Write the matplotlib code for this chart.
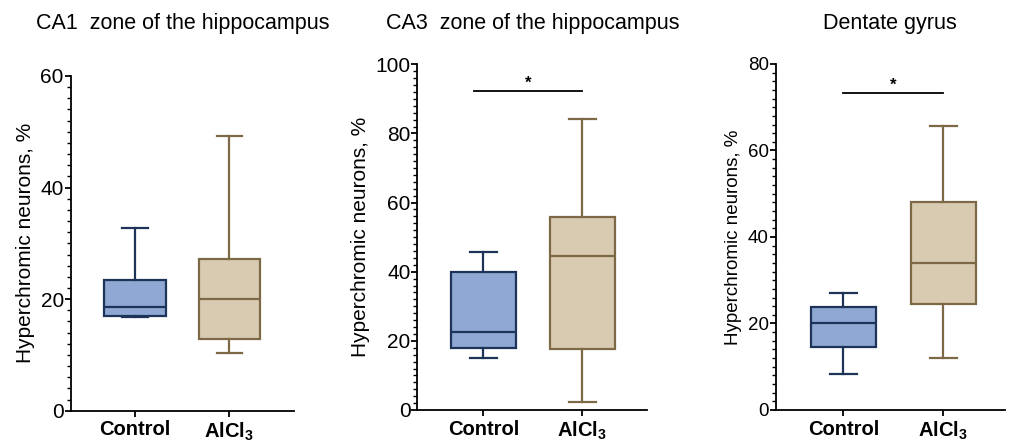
import matplotlib
matplotlib.use('Agg')
import matplotlib.pyplot as plt

plt.rcParams['font.family'] = ['Liberation Sans', 'DejaVu Sans']
plt.rcParams['mathtext.fontset'] = 'custom'
plt.rcParams['mathtext.rm'] = 'Liberation Sans'
plt.rcParams['mathtext.bf'] = 'Liberation Sans:bold'

# box plot summary values (min, q1, median, q3, max)
groups = ['Control', r'AlCl$_\mathbf{3}$']
titles = ['CA1  zone of the hippocampus', 'CA3  zone of the hippocampus', 'Dentate gyrus']
ca1_control = [16.8, 17.0, 18.6, 23.4, 32.7]
ca1_alcl3 = [10.3, 12.9, 20.0, 27.2, 49.3]
ca3_control = [14.9, 17.8, 22.6, 39.9, 45.7]
ca3_alcl3 = [2.3, 17.7, 44.5, 55.9, 84.3]
dg_control = [8.3, 14.5, 20.2, 23.9, 27.0]
dg_alcl3 = [12.1, 24.5, 34.1, 48.1, 65.7]
ymax = [60, 100, 80]
yticks = [[0, 20, 40, 60], [0, 20, 40, 60, 80, 100], [0, 20, 40, 60, 80]]
signif = [None, 92.3, 73.4]

fills = ['#8fa8d4', '#d9cbb2']
edges = ['#1e3358', '#7d6946']

positions = [
    [0.0699, 0.0687, 0.2206, 0.759],
    [0.4124, 0.0703, 0.2273, 0.7839],
    [0.7665, 0.0703, 0.2266, 0.7846],
]
xlims = [(0.32, 2.686), (0.333, 2.657), (0.324, 2.617)]
sig_start = [None, 0.91, 1.0]
fsizes = [15, 15, 13.5]

fig = plt.figure(figsize=(10.12, 4.41), dpi=100)

data = [(ca1_control, ca1_alcl3), (ca3_control, ca3_alcl3), (dg_control, dg_alcl3)]
for i in range(3):
    ax = fig.add_axes(positions[i])
    for j in range(2):
        v = data[i][j]
        st = {'whislo': v[0], 'q1': v[1], 'med': v[2], 'q3': v[3], 'whishi': v[4], 'fliers': []}
        ax.bxp([st], positions=[j + 1], widths=0.65, capwidths=0.27, patch_artist=True,
               showfliers=False,
               boxprops=dict(facecolor=fills[j], edgecolor=edges[j], linewidth=1.6),
               medianprops=dict(color=edges[j], linewidth=1.6),
               whiskerprops=dict(color=edges[j], linewidth=1.6),
               capprops=dict(color=edges[j], linewidth=1.6))
    ax.set_xlim(xlims[i])
    ax.set_ylim(0, ymax[i])
    ax.set_yticks(yticks[i])
    ax.set_yticks(range(0, ymax[i] + 1, 2), minor=True)
    ax.set_xticks([1, 2])
    ax.set_xticklabels(groups, fontweight='bold', fontsize=14.5)
    ax.spines['top'].set_visible(False)
    ax.spines['right'].set_visible(False)
    ax.spines['left'].set_linewidth(1.3)
    ax.spines['bottom'].set_linewidth(1.3)
    ax.tick_params(axis='y', which='major', length=4, width=1.3, labelsize=fsizes[i], pad=1)
    ax.tick_params(axis='y', which='minor', length=3, width=1.0)
    ax.tick_params(axis='x', length=4, width=1.3, pad=3)
    ax.set_ylabel('Hyperchromic neurons, %', fontsize=fsizes[i], labelpad=4)
    p = positions[i]
    fig.text(p[0] + p[2] / 2, 1 - 29 / 441, titles[i], ha='center', va='baseline', fontsize=15.5)
    if signif[i] is not None:
        ax.plot([sig_start[i], 2.0], [signif[i], signif[i]], color='black', linewidth=1.3)
        ax.text((sig_start[i] + 2.0) / 2, signif[i], '*', ha='center', va='bottom',
                fontsize=12, fontweight='bold')

fig.savefig('out.png', dpi=100)
